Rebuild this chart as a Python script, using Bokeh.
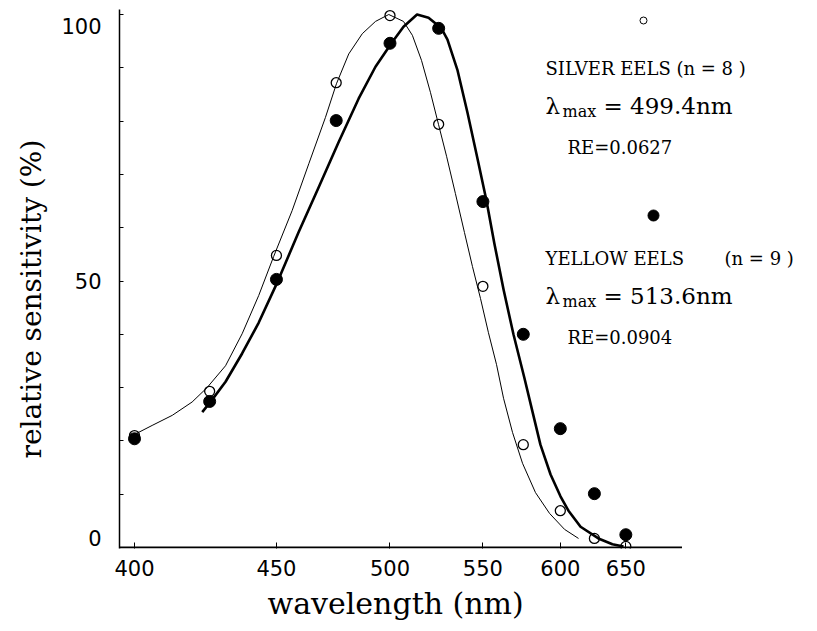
import numpy as np
from bokeh.plotting import figure
from bokeh.models import Range1d, FixedTicker, CustomJSTickFormatter, Label, ColumnDataSource, Title
from bokeh.embed import file_html
from bokeh.resources import INLINE

# ---- data (wavelength in nm, relative sensitivity in %) ----
wavelength_pts = [400, 425, 450, 475, 500, 525, 550, 575, 600, 625, 650]
silver_pts = [21.0, 29.3, 54.8, 87.2, 99.8, 79.4, 49.0, 19.3, 6.9, 1.7, 0.2]
yellow_pts = [20.4, 27.4, 50.3, 80.1, 94.6, 97.4, 64.9, 40.0, 22.3, 10.1, 2.4]

silver_curve_wl = [400.0, 405.6, 412.2, 418.9, 424.1, 430.7, 436.8, 443.1, 448.9, 456.3,
                   463.2, 470.3, 475.1, 480.6, 486.8, 493.0, 499.4, 506.7, 511.2, 515.9,
                   520.6, 524.9, 529.3, 534.2, 539.3, 543.9, 548.6, 553.3, 558.2, 562.5,
                   568.1, 574.5, 583.0, 592.5, 603.0, 613.1]
silver_curve = [21.2, 22.9, 24.8, 27.3, 30.0, 34.1, 40.1, 47.3, 54.6, 63.2,
                72.0, 80.7, 87.0, 92.6, 96.4, 98.7, 100.0, 98.7, 96.1, 91.4,
                85.4, 79.4, 73.4, 66.4, 59.1, 52.7, 46.7, 40.3, 34.3, 28.0,
                21.6, 15.8, 10.3, 6.4, 3.4, 1.7]

yellow_curve_wl = [422.4, 425.7, 430.7, 436.8, 443.1, 450.3, 458.9, 467.3, 476.0, 485.1,
                   493.0, 500.7, 506.7, 513.6, 519.6, 526.5, 529.8, 535.4, 541.0, 546.8,
                   552.1, 556.9, 562.5, 568.7, 575.8, 581.0, 586.3, 593.2, 600.1, 605.8,
                   614.6, 628.1, 639.1, 648.1]
yellow_curve = [25.4, 27.6, 31.1, 36.4, 42.2, 49.7, 59.1, 67.5, 76.0, 84.2,
                90.2, 94.6, 97.7, 100.0, 99.4, 97.4, 95.3, 89.5, 81.6, 73.0,
                65.1, 57.0, 48.4, 40.0, 31.7, 25.5, 19.3, 13.7, 9.6, 6.9,
                3.9, 1.7, 0.6, 0.2]

x_tick_wl = [400, 450, 500, 550, 600, 650]
x_axis_end_wl = 700
y_tick_labels = {1.7: "0", 50: "50", 97.9: "100"}
y_minor = [0, 10, 20, 30, 40, 50, 60, 70, 80, 90, 100]

silver_title = "SILVER EELS (n = 8 )"
silver_lmax = "= 499.4nm"
silver_re = "RE=0.0627"
yellow_title = "YELLOW EELS"
yellow_n = "(n = 9 )"
yellow_lmax = "= 513.6nm"
yellow_re = "RE=0.0904"

# axis is linear in wavenumber (1/lambda), labelled in wavelength
def wn(wl):
    return 1e7 / np.asarray(wl, dtype=float)

# helpers for placing annotations at page pixel positions
def px_x(px):
    return 25000 - (px - 134) * 19.57

def px_y(py):
    return (547 - py) / 5.33

p = figure(width=808, height=631,
           x_range=Range1d(px_x(119), px_x(808)),
           y_range=Range1d(px_y(548), px_y(9)),
           output_backend="svg", toolbar_location=None,
           min_border_left=119, min_border_right=0,
           min_border_top=9, min_border_bottom=83)
p.outline_line_color = None
p.grid.visible = False
p.background_fill_color = "white"
p.border_fill_color = "white"

# x axis line (ends at 700 nm as in the original)
p.segment(x0=[p.x_range.start], y0=[0], x1=[float(wn(x_axis_end_wl))], y1=[0],
          line_color="black", line_width=2)

# curves
p.line(wn(silver_curve_wl), silver_curve, line_color="black", line_width=1.0,
       line_join="round")
p.line(wn(yellow_curve_wl), yellow_curve, line_color="black", line_width=2.6,
       line_join="round")

# points
src = ColumnDataSource(dict(x=wn(wavelength_pts), s=silver_pts, y=yellow_pts))
p.scatter("x", "s", source=src, marker="circle", size=10, fill_color=None,
          line_color="black", line_width=1.3)
p.scatter("x", "y", source=src, marker="circle", size=12, fill_color="black",
          line_color="black")

# legend keys
p.scatter([px_x(643)], [px_y(20)], marker="circle", size=7, fill_color=None,
          line_color="black", line_width=1.0)
p.scatter([px_x(653)], [px_y(215)], marker="circle", size=11, fill_color="black",
          line_color="black")

# x axis
xa = p.xaxis[0]
xa.ticker = FixedTicker(ticks=list(wn(x_tick_wl)))
xa.formatter = CustomJSTickFormatter(code="return String(Math.round(1e7 / tick));")
xa.major_tick_in = 6
xa.major_tick_out = 0
xa.minor_tick_line_color = None
xa.axis_line_color = None
xa.major_tick_line_color = "black"
xa.major_tick_line_width = 1
xa.major_label_text_font = "DejaVu Sans"
xa.major_label_text_font_size = "21px"
xa.major_label_text_color = "black"
xa.major_label_standoff = 11

# y axis
ya = p.yaxis[0]
ya.ticker = FixedTicker(ticks=list(y_tick_labels.keys()), minor_ticks=y_minor)
ya.major_label_overrides = y_tick_labels
ya.major_tick_line_color = None
ya.major_tick_in = 0
ya.major_tick_out = 0
ya.minor_tick_in = 4
ya.minor_tick_out = 0
ya.minor_tick_line_color = "black"
ya.axis_line_width = 1.5
ya.axis_line_color = "black"
ya.major_label_text_font = "DejaVu Sans"
ya.major_label_text_font_size = "21px"
ya.major_label_text_color = "black"
ya.major_label_standoff = 18

# axis titles as side-panel titles (positioned like the original)
p.add_layout(Title(text="relative sensitivity (%)", align="left", offset=90,
                   standoff=22, text_font="DejaVu Serif", text_font_size="28px",
                   text_font_style="normal", text_color="black"), "left")
p.add_layout(Title(text="wavelength (nm)", align="left", offset=148,
                   standoff=10, text_font="DejaVu Serif", text_font_size="30px",
                   text_font_style="normal", text_color="black"), "below")

def add_label(text, px, py, size, font="DejaVu Serif"):
    p.add_layout(Label(x=px_x(px), y=px_y(py), text=text, text_font=font,
                       text_font_size=f"{size}px", text_color="black",
                       text_align="left", text_baseline="middle"))

for title, lmax, re, top in [(silver_title, silver_lmax, silver_re, 68),
                             (yellow_title, yellow_lmax, yellow_re, 258)]:
    add_label(title, 545, top, 18)
    add_label("\u03bb", 545, top + 37, 23)
    add_label("max", 562, top + 43, 16)
    add_label(lmax, 603, top + 37, 23)
    add_label(re, 567, top + 79, 18)
add_label(yellow_n, 724, 258, 18)

open("out.html", "w").write(file_html(p, INLINE))
